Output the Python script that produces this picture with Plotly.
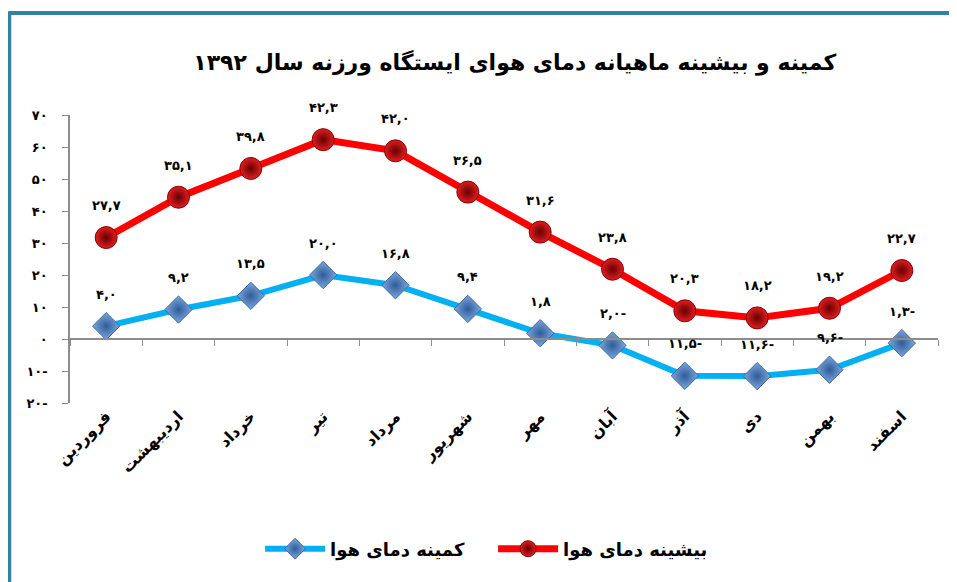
import plotly.graph_objects as go

months = ["فروردین", "اردیبهشت", "خرداد", "تیر", "مرداد", "شهریور",
          "مهر", "آبان", "آذر", "دی", "بهمن", "اسفند"]
t_min = [4.0, 9.2, 13.5, 20.0, 16.8, 9.4, 1.8, -2.0, -11.5, -11.6, -9.6, -1.3]
t_max = [27.7, 35.1, 39.8, 42.3, 42.0, 36.5, 31.6, 23.8, 20.3, 18.2, 19.2, 22.7]
y_ticks = [70, 60, 50, 40, 30, 20, 10, 0, -10, -20]

font_fa = "DejaVu Sans"
axis_gray = "#8c8c8c"
frame_color = "#31849B"

fa_digits = str.maketrans("0123456789", "۰۱۲۳۴۵۶۷۸۹")

def fa_num(v, dec=True):
    # رقم فارسی، علامت منفی در انتها مثل اکسل
    s = f"{abs(v):.1f}" if dec else f"{abs(v)}"
    s = s.replace(".", ",").translate(fa_digits)
    return s + ("-" if v < 0 else "")

fig = go.Figure()

# نمودار خطی انباشته (مثل اکسل): بیشینه روی کمینه
fig.add_trace(go.Scatter(
    x=months, y=t_min, name="<b>کمینه دمای هوا</b>",
    stackgroup="s", fill="none", mode="lines+markers",
    line=dict(color="#00B0F0", width=6),
    marker=dict(symbol="diamond", size=21, color="#7DA7DC",
                gradient=dict(type="radial", color="#2E5C99"),
                line=dict(color="#3A6AA8", width=1)),
))
fig.add_trace(go.Scatter(
    x=months, y=t_max, name="<b>بیشینه دمای هوا</b>",
    stackgroup="s", fill="none", mode="lines+markers",
    line=dict(color="#FF0000", width=7),
    marker=dict(symbol="circle", size=22, color="#E01E22",
                gradient=dict(type="radial", color="#650000"),
                line=dict(color="#8B0000", width=1)),
))
# محور دوم برای خط صفر با تیک‌ها
fig.add_trace(go.Scatter(x=months, y=[None] * len(months), xaxis="x2",
                         showlegend=False, hoverinfo="skip"))

# برچسب مقادیر
for m, lo, hi in zip(months, t_min, t_max):
    fig.add_annotation(x=m, y=lo, text="<b>" + fa_num(lo) + "</b>", showarrow=False,
                       yshift=32, font=dict(family=font_fa, size=13, color="black"))
    fig.add_annotation(x=m, y=lo + hi, text="<b>" + fa_num(hi) + "</b>", showarrow=False,
                       yshift=32, font=dict(family=font_fa, size=13, color="black"))

# کادر دور نمودار
fig.add_shape(type="line", xref="paper", yref="paper", x0=-0.07, x1=1.03,
              y0=1.354, y1=1.354, line=dict(color=frame_color, width=4))
fig.add_shape(type="line", xref="paper", yref="paper", x0=-0.07, x1=-0.07,
              y0=1.36, y1=-0.65, line=dict(color=frame_color, width=4))

fig.update_layout(
    width=949, height=574,
    paper_bgcolor="white", plot_bgcolor="white",
    margin=dict(l=62, r=19, t=107, b=179, autoexpand=False),
    title=dict(text="<b>کمینه و بیشینه ماهیانه دمای هوای ایستگاه ورزنه سال ۱۳۹۲</b>",
               x=0.534, xanchor="center", yref="container", y=0.906, yanchor="middle",
               font=dict(family=font_fa, size=22, color="black")),
    showlegend=True,
    legend=dict(orientation="h", x=0.219, xanchor="left", yref="container",
                y=0.0575, yanchor="middle", entrywidth=158,
                font=dict(family=font_fa, size=18, color="black"), itemwidth=60,
                traceorder="normal"),
    xaxis=dict(type="category", range=[-0.5, 11.5], showline=False, ticks="",
               showgrid=False, zeroline=False, tickangle=-45, automargin=False,
               tickfont=dict(family=font_fa, size=16, color="black"),
               ticktext=["<b>" + m + "</b>" for m in months], tickvals=months),
    xaxis2=dict(type="category", range=[-0.5, 11.5], overlaying="x", matches="x",
                anchor="free", position=20 / 90, showline=True, linecolor=axis_gray,
                linewidth=1.5, ticks="outside", tickson="boundaries", ticklen=6,
                tickcolor=axis_gray, showticklabels=False, showgrid=False,
                automargin=False),
    yaxis=dict(range=[-20, 70], tickvals=y_ticks,
               ticktext=["<b>" + fa_num(v, dec=False) + "</b>" for v in y_ticks],
               showline=True, linecolor=axis_gray, linewidth=1.5, ticks="outside",
               ticklen=6, tickcolor=axis_gray, showgrid=False, zeroline=False,
               automargin=False, ticklabelstandoff=12,
               tickfont=dict(family=font_fa, size=13, color="black")),
)

fig.write_html("out.html")
